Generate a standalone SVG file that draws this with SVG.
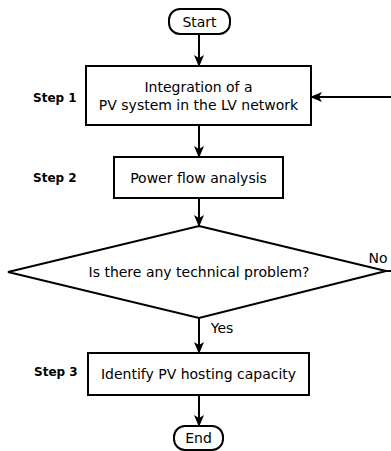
<svg xmlns="http://www.w3.org/2000/svg" width="391" height="451" viewBox="0 0 391 451">
<style>
.n{fill:#fff;stroke:#000;stroke-width:2}
.t{font-family:"DejaVu Sans",sans-serif;font-size:14px;fill:#000;text-anchor:middle;dominant-baseline:central}
.s{font-family:"DejaVu Sans",sans-serif;font-size:12px;font-weight:bold;fill:#000;dominant-baseline:central}
.c{fill:none;stroke:#000;stroke-width:2}
</style>
<defs>
<marker id="a" viewBox="0 0 12 12" refX="11" refY="6" markerWidth="12" markerHeight="12" markerUnits="userSpaceOnUse" orient="auto">
<path d="M0,1 L12,6 L0,11 L3,6 Z" fill="#000"/>
</marker>
</defs>
<rect width="391" height="451" fill="#fff"/>
<g id="connectors">
<path class="c" d="M199,34 V66" marker-end="url(#a)"/>
<path class="c" d="M199,125 V157" marker-end="url(#a)"/>
<path class="c" d="M199,198 V226" marker-end="url(#a)"/>
<path class="c" d="M199,318 V353" marker-end="url(#a)"/>
<path class="c" d="M199,395 V426" marker-end="url(#a)"/>
<path class="c" d="M386,271 H400 V97 H311" marker-end="url(#a)"/>
<text class="t" x="222" y="328">Yes</text>
<text class="t" x="378" y="258">No</text>
</g>
<g id="start">
<rect class="n" x="169" y="9" width="61" height="25" rx="11"/>
<text class="t" x="199.5" y="21.5">Start</text>
</g>
<g id="step1">
<rect class="n" x="86" y="66" width="225" height="59"/>
<text class="t" x="198.5" y="87">Integration of a</text>
<text class="t" x="198.5" y="105">PV system in the LV network</text>
<text class="s" x="33" y="98">Step 1</text>
</g>
<g id="step2">
<rect class="n" x="114" y="157" width="169" height="41"/>
<text class="t" x="198.5" y="178">Power flow analysis</text>
<text class="s" x="33" y="178">Step 2</text>
</g>
<g id="decision">
<polygon class="n" points="199,226 386,271 199,318 8,272"/>
<text class="t" x="199" y="272">Is there any technical problem?</text>
</g>
<g id="step3">
<rect class="n" x="88" y="353" width="221" height="42"/>
<text class="t" x="198.5" y="374">Identify PV hosting capacity</text>
<text class="s" x="34" y="372">Step 3</text>
</g>
<g id="end">
<rect class="n" x="174" y="426" width="49" height="24" rx="11"/>
<text class="t" x="198.5" y="438">End</text>
</g>
</svg>
